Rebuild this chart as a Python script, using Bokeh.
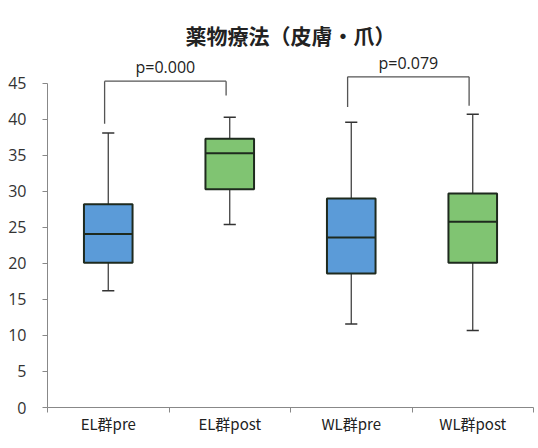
import numpy as np
from bokeh.plotting import figure
from bokeh.models import FixedTicker, Range1d
from bokeh.core.properties import value
from bokeh.embed import file_html
from bokeh.resources import INLINE

# ---- data ----
categories = ["EL群pre", "EL群post", "WL群pre", "WL群post"]
q1 = [20.1, 30.3, 18.6, 20.1]
median = [24.1, 35.3, 23.6, 25.8]
q3 = [28.2, 37.3, 29.0, 29.7]
lower = [16.2, 25.4, 11.6, 10.7]
upper = [38.1, 40.3, 39.6, 40.7]
box_colors = ["#5b9bd8", "#80c472", "#5b9bd8", "#80c472"]

pair_left = [0, 2]
pair_right = [1, 3]
bracket_top = [45.3, 45.9]
bracket_left_end = [39.4, 41.7]
bracket_right_end = [43.3, 41.9]
p_labels = ["p=0.000", "p=0.079"]

y_ticks = [0, 5, 10, 15, 20, 25, 30, 35, 40, 45]

LATIN = "'Open Sans', 'Noto Sans CJK JP'"
CJK = "'Noto Sans CJK JP'"

x = np.arange(len(categories)) + 0.5
bw = 0.4
cap = 0.05

p = figure(width=538, height=448, output_backend="svg", toolbar_location=None,
           x_range=Range1d(0, 4), y_range=Range1d(0, 49),
           min_border_left=47, min_border_right=5,
           min_border_top=54, min_border_bottom=41,
           title="薬物療法（皮膚・爪）")
p.outline_line_color = None
p.grid.grid_line_color = None
p.background_fill_color = "white"

p.title.align = "center"
p.title.offset = -11
p.title.text_font = CJK
p.title.text_font_size = "21px"
p.title.text_font_style = "bold"
p.title.text_color = "#222222"

# whiskers
p.segment(x, q3, x, upper, line_color="#333333", line_width=1.2)
p.segment(x, lower, x, q1, line_color="#333333", line_width=1.2)
p.segment(x - cap, upper, x + cap, upper, line_color="#333333", line_width=1.5)
p.segment(x - cap, lower, x + cap, lower, line_color="#333333", line_width=1.5)

# boxes
p.vbar(x=x, width=bw, bottom=q1, top=q3, fill_color=box_colors,
       line_color="#1e2a1e", line_width=2)
p.segment(x - bw / 2, median, x + bw / 2, median, line_color="#1e2a1e", line_width=2)

# brackets
xl = x[pair_left] - 0.03
xr = x[pair_right] - 0.03
p.segment(xl, bracket_top, xr, bracket_top, line_color="#555555", line_width=1.3)
p.segment(xl, bracket_left_end, xl, bracket_top, line_color="#555555", line_width=1.3)
p.segment(xr, bracket_right_end, xr, bracket_top, line_color="#555555", line_width=1.3)
p.text(x=(xl + xr) / 2, y=np.array(bracket_top) + 0.45, text=p_labels,
       text_align="center", text_baseline="bottom",
       text_font=value(LATIN), text_font_size="16px", text_color="#222222")

# x axis
xa = p.xaxis[0]
xa.ticker = FixedTicker(ticks=list(x), minor_ticks=[0, 1, 2, 3, 4])
xa.major_label_overrides = {float(v): c for v, c in zip(x, categories)}
xa.major_tick_out = 0
xa.major_tick_in = 0
xa.minor_tick_out = 5
xa.minor_tick_in = 0
xa.minor_tick_line_color = "#888888"
xa.axis_line_color = "#888888"
xa.major_label_text_font = CJK
xa.major_label_text_font_size = "15px"
xa.major_label_text_color = "#222222"
xa.major_label_standoff = 0

# y axis
ya = p.yaxis[0]
ya.ticker = FixedTicker(ticks=y_ticks)
ya.bounds = (0, 45)
ya.major_tick_out = 5
ya.major_tick_in = 0
ya.minor_tick_line_color = None
ya.axis_line_color = "#888888"
ya.major_tick_line_color = "#888888"
ya.major_label_text_font = LATIN
ya.major_label_text_font_size = "16px"
ya.major_label_text_color = "#333333"
ya.major_label_standoff = 16

open("out.html", "w").write(file_html(p, INLINE))
